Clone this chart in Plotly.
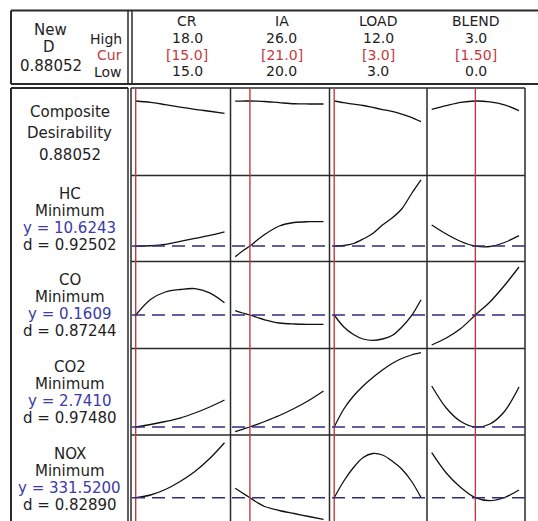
import plotly.graph_objects as go

W, H = 538, 521

# ---- factors (columns) ----
factors = ["CR", "IA", "LOAD", "BLEND"]
f_low = [15.0, 20.0, 3.0, 0.0]
f_high = [18.0, 26.0, 12.0, 3.0]
f_cur = [15.0, 21.0, 3.0, 1.50]
high_txt = ["18.0", "26.0", "12.0", "3.0"]
cur_txt = ["[15.0]", "[21.0]", "[3.0]", "[1.50]"]
low_txt = ["15.0", "20.0", "3.0", "0.0"]

# ---- responses (rows) ----
composite_d = 0.88052
responses = ["HC", "CO", "CO2", "NOX"]
goals = ["Minimum", "Minimum", "Minimum", "Minimum"]
y_opt = [10.6243, 0.1609, 2.7410, 331.5200]
y_txt = ["10.6243", "0.1609", "2.7410", "331.5200"]
d_opt = [0.92502, 0.87244, 0.97480, 0.82890]
d_txt = ["0.92502", "0.87244", "0.97480", "0.82890"]

# ---- factor grids for the response profiles ----
cr_x = [15.0, 15.5, 16.0, 16.5, 17.0, 17.5, 18.0]
ia_x = [20.0, 20.5, 21.0, 21.5, 22.0, 23.0, 24.0, 25.0, 26.0]
load_x = [3, 4, 5, 6, 7, 8, 9, 10, 11, 12]
blend_x = [0.0, 0.5, 1.0, 1.5, 2.0, 2.5, 3.0]

# composite desirability profiles
comp_cr = [0.8805, 0.868, 0.847, 0.825, 0.804, 0.786, 0.767]
comp_ia = [0.879, 0.880, 0.8805, 0.879, 0.876, 0.865, 0.855, 0.853, 0.853]
comp_load = [0.8805, 0.865, 0.851, 0.839, 0.821, 0.802, 0.784, 0.760, 0.730, 0.690]
comp_blend = [0.804, 0.838, 0.868, 0.8805, 0.872, 0.845, 0.792]

# HC profiles
hc_cr = [10.6243, 10.65, 10.75, 10.99, 11.23, 11.47, 11.75]
hc_ia = [9.773, 10.229, 10.6243, 11.107, 11.547, 12.226, 12.505, 12.569, 12.569]
hc_load = [10.6243, 10.668, 10.828, 11.187, 11.627, 12.306, 12.865, 13.584, 14.782, 15.901]
hc_blend = [12.306, 11.587, 10.988, 10.6243, 10.588, 10.908, 11.451]

# CO profiles
co_cr = [0.1609, 0.2229, 0.2529, 0.2629, 0.2665, 0.2497, 0.2101]
co_ia = [0.1781, 0.1689, 0.1609, 0.1509, 0.1417, 0.1289, 0.1249, 0.1237, 0.1237]
co_load = [0.1609, 0.1129, 0.0829, 0.0649, 0.0597, 0.0649, 0.0789, 0.112, 0.157, 0.222]
co_blend = [0.0409, 0.0689, 0.1069, 0.1609, 0.2129, 0.2789, 0.3529]

# CO2 profiles
co2_cr = [2.741, 2.791, 2.851, 2.921, 3.021, 3.141, 3.281]
co2_ia = [2.647, 2.695, 2.741, 2.795, 2.851, 2.971, 3.111, 3.271, 3.461]
co2_load = [2.741, 3.101, 3.361, 3.561, 3.731, 3.881, 4.011, 4.111, 4.181, 4.227]
co2_blend = [3.561, 3.121, 2.851, 2.741, 2.801, 3.051, 3.541]

# NOX profiles
nox_cr = [331.52, 336.92, 347.92, 363.92, 383.92, 409.92, 441.52]
nox_ia = [350.32, 340.92, 331.52, 321.92, 313.92, 305.92, 299.92, 293.92, 288.32]
nox_load = [331.52, 364.92, 391.92, 411.92, 419.92, 416.92, 404.92, 388.92, 364.92, 331.92]
nox_blend = [421.52, 380.92, 351.92, 331.52, 325.52, 331.92, 346.92]

factor_x = [cr_x, ia_x, load_x, blend_x]
profiles = [
    [comp_cr, comp_ia, comp_load, comp_blend],
    [hc_cr, hc_ia, hc_load, hc_blend],
    [co_cr, co_ia, co_load, co_blend],
    [co2_cr, co2_ia, co2_load, co2_blend],
    [nox_cr, nox_ia, nox_load, nox_blend],
]

# ---- layout geometry (pixels) ----
col_edges = [131, 230.5, 329.5, 427, 525]
row_edges = [88, 175.5, 261.5, 348.5, 435, 521]
y_ranges = [[0.195, 1.0], [9.39, 16.26], [0.0269, 0.3749], [2.581, 4.311], [284.92, 456.92]]
pad_l, pad_r = 4.7, 6.0


def px(x):
    return x / W


def py(y):
    return 1 - y / H


BLACK = "#1e1e1e"
LINE = "#2a2a2a"
RED = "#c23a40"
BLUE = "#3a3aa8"
FONT = "DejaVu Sans"

fig = go.Figure()
layout = dict(
    width=W, height=H,
    margin=dict(l=0, r=0, t=0, b=0),
    paper_bgcolor="white", plot_bgcolor="white",
    showlegend=False,
)

for c in range(4):
    left, right = col_edges[c], col_edges[c + 1]
    lo, hi = f_low[c], f_high[c]
    span = (right - left) - pad_l - pad_r
    k = (hi - lo) / span
    layout["xaxis" + ("" if c == 0 else str(c + 1))] = dict(
        domain=[px(left), px(right)],
        range=[lo - pad_l * k, hi + pad_r * k],
        visible=False, fixedrange=True, anchor="y",
    )
for r in range(5):
    top, bot = row_edges[r], row_edges[r + 1]
    layout["yaxis" + ("" if r == 0 else str(r + 1))] = dict(
        domain=[py(bot), py(top)],
        range=y_ranges[r],
        visible=False, fixedrange=True, anchor="x",
    )

# profile curves
for r in range(5):
    for c in range(4):
        fig.add_trace(go.Scatter(
            x=factor_x[c], y=profiles[r][c], mode="lines",
            line=dict(color="#111111", width=1.3, shape="spline", smoothing=0.9),
            xaxis="x" + ("" if c == 0 else str(c + 1)),
            yaxis="y" + ("" if r == 0 else str(r + 1)),
            hoverinfo="skip",
        ))

shapes = []


def seg(x0, y0, x1, y1, w=1.5, color=LINE):
    shapes.append(dict(type="line", xref="paper", yref="paper",
                       x0=px(x0), y0=py(y0), x1=px(x1), y1=py(y1),
                       line=dict(color=color, width=w)))


# header frame
seg(11, 10.5, 540, 10.5, 2)
seg(11, 84, 540, 84, 2)
seg(11, 10.5, 11, 84, 2)
seg(128, 10.5, 128, 84, 1.5)
seg(132, 10.5, 132, 84, 1.5)
# label box
seg(11, 88, 128, 88, 2)
seg(11, 88, 11, 530, 2)
seg(128, 88, 128, 530, 1.5)
# panel grid
seg(131, 88, 525, 88, 1.5)
for y in row_edges[1:-1]:
    seg(131, y, 525, y, 1.5)
for x in col_edges:
    seg(x, 88, x, 530, 1.5)

# current factor settings
for c in range(4):
    shapes.append(dict(type="line", xref="x" + ("" if c == 0 else str(c + 1)), yref="paper",
                       x0=f_cur[c], x1=f_cur[c], y0=py(530), y1=py(88),
                       line=dict(color=RED, width=1.4)))

# predicted response at current settings
for i in range(4):
    shapes.append(dict(type="line", xref="paper", yref="y" + str(i + 2),
                       x0=px(132), x1=px(525), y0=y_opt[i], y1=y_opt[i],
                       line=dict(color="#2d2d80", width=1.5, dash="13px,7px")))

layout["shapes"] = shapes

ann = []


def txt(x, y, s, color=BLACK, anchor="center", size=15):
    ann.append(dict(x=px(x), y=py(y), xref="paper", yref="paper", text=s,
                    showarrow=False, xanchor=anchor, yanchor="middle",
                    font=dict(family=FONT, size=size, color=color)))


# header: optimal D and level labels
txt(50, 29.5, "New")
txt(49, 47.5, "D")
txt(51, 65.5, f"{composite_d:.5f}")
txt(124, 39, "High", anchor="right", size=14)
txt(124, 55.5, "Cur", RED, anchor="right", size=14)
txt(124, 72, "Low", anchor="right", size=14)

head_x = [187, 281.5, 378.3, 475.5]
for c in range(4):
    txt(head_x[c], 21, factors[c], size=14)
    txt(head_x[c], 38, high_txt[c], size=14)
    txt(head_x[c], 54.5, cur_txt[c], RED, size=14)
    txt(head_x[c], 71, low_txt[c], size=14)

# row labels
LX = 69.5
txt(LX, 111.5, "Composite")
txt(LX, 133, "Desirability")
txt(LX, 154.5, f"{composite_d:.5f}")
for i in range(4):
    top = row_edges[i + 1] + 18.8
    txt(LX, top, responses[i])
    txt(LX, top + 17, goals[i])
    txt(LX, top + 34, "y = " + y_txt[i], BLUE)
    txt(LX, top + 51, "d = " + d_txt[i])

layout["annotations"] = ann
fig.update_layout(**layout)
fig.write_html("out.html")
